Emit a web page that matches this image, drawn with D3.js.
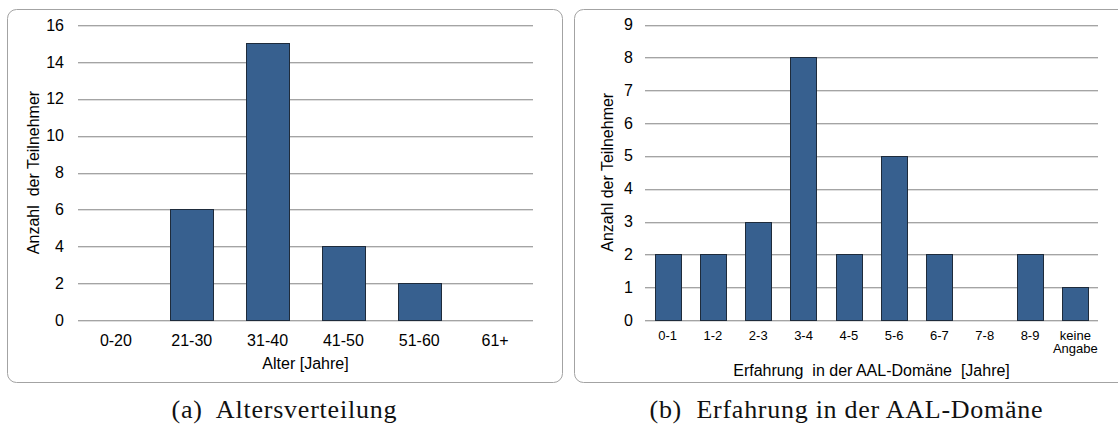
<!DOCTYPE html>
<html>
<head>
<meta charset="utf-8">
<script src="https://cdn.jsdelivr.net/npm/d3@7/dist/d3.min.js"></script>
<style>
  html, body { margin: 0; padding: 0; background: #ffffff; }
  svg { display: block; }
  text { font-family: "Liberation Sans", Arial, sans-serif; fill: #000; }
  .caption { font-family: "Liberation Serif", "Times New Roman", serif; fill: #111; }
</style>
</head>
<body>
<svg id="chart" width="1118" height="428"></svg>
<script>
// Age distribution of participants
const ageCategories = ["0-20", "21-30", "31-40", "41-50", "51-60", "61+"];
const ageCounts = [0, 6, 15, 4, 2, 0];
const ageTicks = [0, 2, 4, 6, 8, 10, 12, 14, 16];

// Experience in the AAL domain
const expCategories = ["0-1", "1-2", "2-3", "3-4", "4-5", "5-6", "6-7", "7-8", "8-9", "keine Angabe"];
const expCounts = [2, 2, 3, 8, 2, 5, 2, 0, 2, 1];
const expTicks = [0, 1, 2, 3, 4, 5, 6, 7, 8, 9];

const svg = d3.select("#chart");
const BAR_FILL = "#37608f";
const BAR_STROKE = "#1e2b3b";

function drawPanel(opt) {
  const g = svg.append("g");

  // rounded frame around the chart
  g.append("rect")
    .attr("x", opt.frame[0] + 0.5).attr("y", opt.frame[1] + 0.5)
    .attr("width", opt.frame[2]).attr("height", opt.frame[3])
    .attr("rx", 9).attr("ry", 9)
    .attr("fill", "#fff").attr("stroke", "#a3a3a3").attr("stroke-width", 1);

  const x = d3.scaleBand()
    .domain(opt.categories)
    .range([opt.left, opt.right])
    .paddingInner(opt.pad).paddingOuter(opt.pad / 2);
  const y = d3.scaleLinear().domain(opt.yDomain).range([opt.bottom, opt.top]);

  // horizontal grid lines (dark line with a soft light line below)
  const grid = g.append("g");
  grid.selectAll("line.dk").data(opt.ticks).join("line")
    .attr("x1", opt.left).attr("x2", opt.right)
    .attr("y1", d => Math.round(y(d)) + 0.5).attr("y2", d => Math.round(y(d)) + 0.5)
    .attr("stroke", "#a4a4a4").attr("stroke-width", 1);
  grid.selectAll("line.lt").data(opt.ticks).join("line")
    .attr("x1", opt.left).attr("x2", opt.right)
    .attr("y1", d => Math.round(y(d)) + 1.5).attr("y2", d => Math.round(y(d)) + 1.5)
    .attr("stroke", "#dedede").attr("stroke-width", 1);

  // y axis labels
  const yAxis = d3.axisLeft(y).tickValues(opt.ticks).tickSize(0).tickPadding(0);
  const ya = g.append("g").attr("transform", `translate(${opt.yLabelX},0)`).call(yAxis);
  ya.select(".domain").remove();
  ya.selectAll("text")
    .attr("font-size", "16px").attr("fill", "#000")
    .style("font-family", "'Liberation Sans', Arial, sans-serif");

  // bars
  const data = opt.categories.map((c, i) => ({ c, v: opt.values[i] })).filter(d => d.v > 0);
  g.selectAll("rect.bar").data(data).join("rect")
    .attr("class", "bar")
    .attr("x", d => Math.round(x(d.c)) + 0.5)
    .attr("y", d => Math.round(y(d.v)) + 0.5)
    .attr("width", Math.round(x.bandwidth()))
    .attr("height", d => Math.round(y(0)) - Math.round(y(d.v)))
    .attr("fill", BAR_FILL).attr("stroke", BAR_STROKE).attr("stroke-width", 1);

  // x axis category labels
  const xl = g.append("g");
  opt.categories.forEach(c => {
    const words = c.split(" ");
    const t = xl.append("text")
      .attr("x", x(c) + x.bandwidth() / 2)
      .attr("y", opt.xLabelY)
      .attr("text-anchor", "middle")
      .attr("dominant-baseline", "central")
      .attr("font-size", opt.xLabelSize);
    words.forEach((w, i) => {
      t.append("tspan").attr("x", x(c) + x.bandwidth() / 2)
        .attr("dy", i === 0 ? 0 : opt.xLabelLine).text(w);
    });
  });

  // axis titles
  g.append("text")
    .attr("x", (opt.left + opt.right) / 2).attr("y", opt.xTitleY)
    .attr("text-anchor", "middle").attr("dominant-baseline", "central")
    .attr("font-size", "16px").style("white-space", "pre")
    .text(opt.xTitle);
  g.append("text")
    .attr("transform", `translate(${opt.yTitleX},${(opt.top + opt.bottom) / 2}) rotate(-90)`)
    .attr("text-anchor", "middle").attr("dominant-baseline", "central")
    .attr("font-size", "16px").style("white-space", "pre")
    .text(opt.yTitle);

  // sub-figure caption
  svg.append("text").attr("class", "caption")
    .attr("x", opt.captionX).attr("y", 418)
    .attr("text-anchor", "middle")
    .attr("font-size", "26px")
    .attr("textLength", opt.captionLen).attr("lengthAdjust", "spacing")
    .style("white-space", "pre")
    .text(opt.caption);
}

drawPanel({
  frame: [7, 9, 555, 373],
  categories: ageCategories, values: ageCounts, ticks: ageTicks,
  yDomain: [0, 16], left: 78, right: 533, top: 25, bottom: 320, pad: 0.43,
  yLabelX: 64, xLabelY: 340, xLabelSize: "16px", xLabelLine: "1.1em",
  xTitle: "Alter [Jahre]", xTitleY: 363,
  yTitle: "Anzahl  der Teilnehmer", yTitleX: 33,
  caption: "(a)  Altersverteilung", captionX: 284, captionLen: 225
});

drawPanel({
  frame: [574, 9, 560, 373],
  categories: expCategories, values: expCounts, ticks: expTicks,
  yDomain: [0, 9], left: 645, right: 1098, top: 24.5, bottom: 320, pad: 0.42,
  yLabelX: 633, xLabelY: 335, xLabelSize: "13px", xLabelLine: "13px",
  xTitle: "Erfahrung  in der AAL-Domäne  [Jahre]", xTitleY: 370,
  yTitle: "Anzahl der Teilnehmer", yTitleX: 607,
  caption: "(b)  Erfahrung in der AAL-Domäne", captionX: 846, captionLen: 393
});
</script>
</body>
</html>
